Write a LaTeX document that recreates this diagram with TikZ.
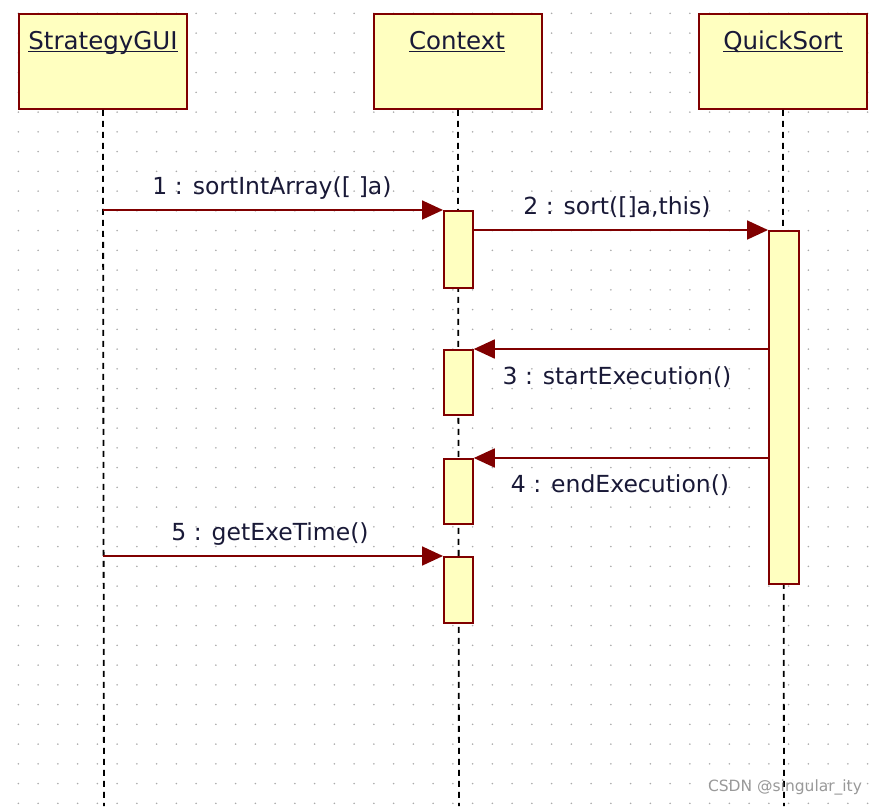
\documentclass[tikz,border=0pt]{standalone}
\usepackage{fontspec}
\setmainfont{DejaVu Sans}
\usetikzlibrary{arrows.meta}
\definecolor{umlred}{RGB}{128,0,0}
\definecolor{umlfill}{RGB}{255,255,192}
\definecolor{umltext}{RGB}{25,25,55}
\definecolor{griddot}{RGB}{170,170,170}
\tikzset{
  objbox/.style={draw=umlred, fill=umlfill, line width=1.8pt, minimum width=168pt, minimum height=95pt, inner sep=0pt, anchor=north west},
  actbox/.style={draw=umlred, fill=umlfill, line width=1.8pt, minimum width=29pt, inner sep=0pt, anchor=north west},
  hdrtext/.style={inner sep=0pt, anchor=base, text=umltext, font=\fontsize{24.5}{28}\selectfont},
  msgtext/.style={inner sep=0pt, text=umltext, font=\fontsize{23.5}{28}\selectfont},
  lifeline/.style={black, line width=1.8pt, dash pattern=on 6pt off 5pt},
  msg/.style={umlred, line width=1.8pt, -{Triangle[length=21pt,width=19pt]}},
}
\begin{document}
\begin{tikzpicture}[x=1pt,y=-1pt]
\useasboundingbox (0,0) rectangle (878,806);
\fill[white] (0,0) rectangle (878,806);
% dotted grid
\foreach \i in {0,...,45}{
  \foreach \j in {0,...,40}{
    \fill[griddot] ({-1.4+19.75*\i},{13.3+19.75*\j}) circle (0.9);
  }
}
% bottom ends of lifelines
\coordinate (guiend) at (104,806);
\coordinate (ctxend) at (459,806);
\coordinate (qsend) at (784,806);
% object boxes
\node[objbox] (gui) at (18,13) {};
\node[objbox] (ctx) at (373,13) {};
\node[objbox] (qs) at (698,13) {};
% lifelines
\draw[lifeline] (gui.south) -- (guiend);
\draw[lifeline] (ctx.south) -- (ctxend);
\draw[lifeline] (qs.south) -- (qsend);
% header texts
\node[hdrtext] (guit) at (103,49) {StrategyGUI};
\node[hdrtext] (ctxt) at (457,49) {Context};
\node[hdrtext] (qst) at (783,49) {QuickSort};
\foreach \t in {guit,ctxt,qst}{
  \draw[umltext, line width=1.4pt] ([yshift=-2.5pt]\t.base west) -- ([yshift=-2.5pt]\t.base east);
}
% activation boxes
\node[actbox, minimum height=77pt] (a1) at (443,210) {};
\node[actbox, minimum width=30pt, minimum height=353pt] (q1) at (768,230) {};
\node[actbox, minimum height=65pt] (a2) at (443,349) {};
\node[actbox, minimum height=65pt] (a3) at (443,458) {};
\node[actbox, minimum height=66pt] (a4) at (443,556) {};
% messages
\draw[msg] (gui.south |- a1.north west) -- (a1.north west);
\draw[msg] (a1.east |- q1.north west) -- (q1.north west);
\draw[msg] (q1.west |- a2.north east) -- (a2.north east);
\draw[msg] (q1.west |- a3.north east) -- (a3.north east);
\draw[msg] (gui.south |- a4.north west) -- (a4.north west);
% labels
\node[msgtext] (l1) at (272,188) {1 : sortIntArray([\,\,]a)};
\node[msgtext] (l2) at (617,207) {2 : sort([]a,this)};
\node[msgtext] (l3) at (617,377) {3 : startExecution()};
\node[msgtext] (l4) at (620,485) {4 : endExecution()};
\node[msgtext] (l5) at (270,534) {5 : getExeTime()};
% watermark
\node[inner sep=0pt, text=gray!80, font=\fontsize{15.5}{18}\selectfont] (wm) at (785,787) {CSDN @singular\_ity};
\end{tikzpicture}
\end{document}
